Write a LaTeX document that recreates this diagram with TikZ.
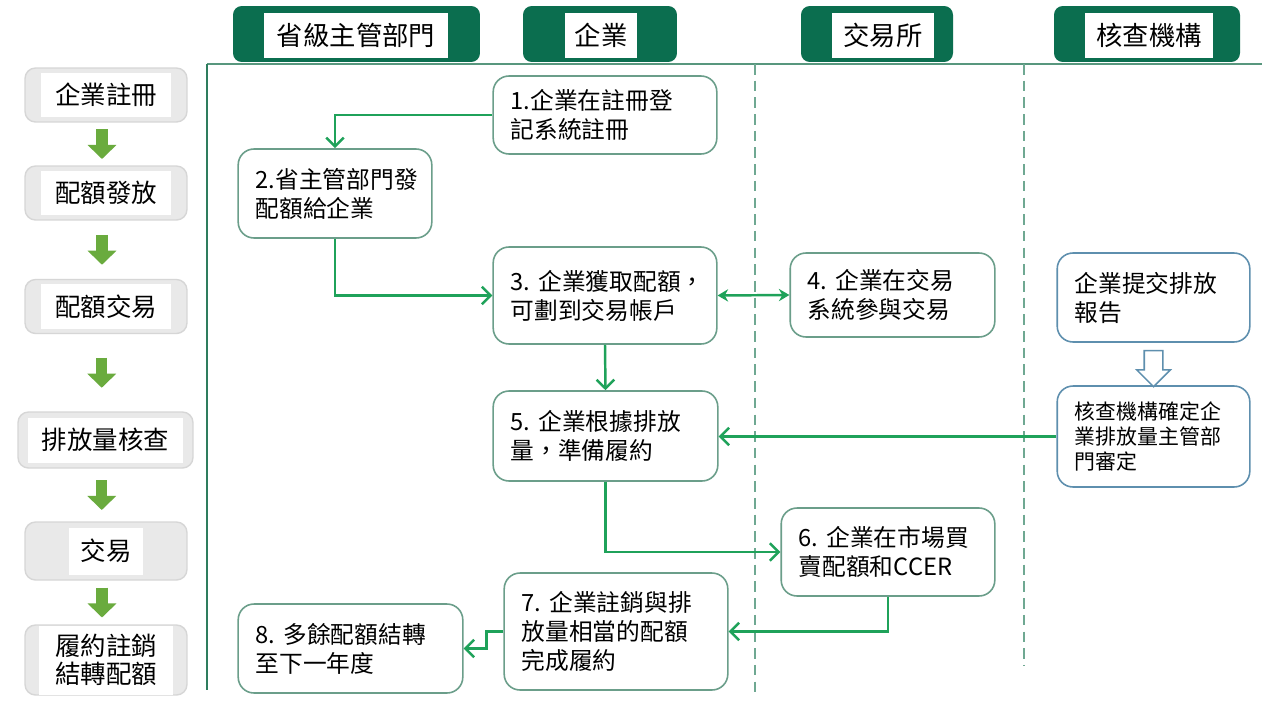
\documentclass[tikz,border=0pt]{standalone}
\usepackage{fontspec}
\setmainfont{Noto Sans CJK TC}
\usepackage{tikz}
\usetikzlibrary{arrows.meta,positioning,shapes.arrows,calc}
\usepackage{xcolor}
\definecolor{hdrgreen}{HTML}{0B6E4F}
\definecolor{flowgreen}{HTML}{1FA25A}
\definecolor{stepedge}{HTML}{6B9E8A}
\definecolor{checkedge}{HTML}{5E8FAE}
\definecolor{mainlane}{HTML}{2E7D5E}
\definecolor{dashlane}{HTML}{6FA892}
\definecolor{phasegreen}{HTML}{6AAB3E}
\definecolor{phasebg}{HTML}{E9E9E9}
\definecolor{phaseedge}{HTML}{D6D6D6}

\begin{document}
\begin{tikzpicture}[
  x=0.02cm, y=-0.02cm,
  >=Stealth,
  lanetab/.style={
    fill=hdrgreen,
    rounded corners=5pt,
    minimum height=1.12cm,
    inner sep=0pt
  },
  lanename/.style={
    fill=white,
    minimum height=0.9cm,
    inner sep=0pt,
    font=\fontsize{15}{18}\selectfont
  },
  phasebox/.style={
    fill=phasebg,
    draw=phaseedge,
    line width=0.8pt,
    rounded corners=6pt,
    minimum width=3.24cm,
    minimum height=1.08cm,
    inner sep=0pt
  },
  phasename/.style={
    fill=white,
    minimum width=2.6cm,
    minimum height=0.9cm,
    inner sep=0pt,
    align=center,
    font=\fontsize{14.5}{16}\selectfont
  },
  phasearrow/.style={
    -{Triangle[width=16pt,length=8pt]},
    line width=6.5pt,
    draw=phasegreen
  },
  stepbox/.style={
    draw=stepedge,
    fill=white,
    line width=0.9pt,
    rounded corners=9pt,
    align=left,
    inner xsep=10pt,
    inner ysep=0pt,
    font=\fontsize{13.5}{16.5}\selectfont
  },
  checkbox/.style={
    stepbox,
    draw=checkedge
  },
  flow/.style={
    -{Straight Barb[length=5pt,width=10pt]},
    line width=1.4pt,
    draw=flowgreen
  },
  tradeflow/.style={
    {Stealth[length=6pt,width=7pt]}-{Stealth[length=6pt,width=7pt]},
    line width=1.4pt,
    draw=flowgreen
  },
  hollowarrow/.style={
    single arrow,
    draw=checkedge,
    fill=white,
    line width=0.9pt,
    inner sep=0.17cm,
    single arrow head extend=0.15cm,
    minimum height=0.72cm
  },
  dashrule/.style={
    draw=dashlane,
    line width=0.9pt,
    dash pattern=on 6pt off 3.5pt
  }
]

  \fill[white] (0,0) rectangle (1280,720);
  \useasboundingbox (0,0) rectangle (1280,720);

  % --- Swimlane rules ---
  \draw[mainlane!80, line width=0.8pt] (207,64) -- (1262,64);
  \draw[mainlane, line width=1.4pt] (207,64) -- (207,690);
  \draw[dashrule] (755,64) -- (755,692);
  \draw[dashrule] (1024,64) -- (1024,666);

  % --- Lane headers ---
  \node[lanetab, minimum width=4.94cm] (tab1) at (356.5,34) {};
  \node[lanename, minimum width=3.68cm] (lane1) at (356,35.5) {省級主管部門};
  \node[lanetab, minimum width=3.08cm] (tab2) at (600,34) {};
  \node[lanename, minimum width=1.44cm] (lane2) at (601,35.5) {企業};
  \node[lanetab, minimum width=3.04cm] (tab3) at (877,34) {};
  \node[lanename, minimum width=2.04cm] (lane3) at (883,35.5) {交易所};
  \node[lanetab, minimum width=3.72cm] (tab4) at (1147,34) {};
  \node[lanename, minimum width=2.56cm] (lane4) at (1149,35.5) {核查機構};

  % --- Left column: phases ---
  \node[phasebox] (p1) at (106,95) {};
  \node[phasename] (p1t) at (p1) {企業註冊};
  \node[phasebox] (p2) at (106,193) {};
  \node[phasename] (p2t) at (p2) {配額發放};
  \node[phasebox] (p3) at (106,306.5) {};
  \node[phasename] (p3t) at (p3) {配額交易};
  \node[phasebox, minimum width=3.5cm, minimum height=1.12cm] (p4) at (105.5,440) {};
  \node[phasename, minimum width=3.1cm] (p4t) at (p4) {排放量核查};
  \node[phasebox, minimum height=1.16cm] (p5) at (106,551) {};
  \node[phasename, minimum width=1.5cm, minimum height=0.94cm] (p5t) at (p5) {交易};
  \node[phasebox, minimum height=1.4cm] (p6) at (106,660) {};
  \node[phasename, minimum width=2.7cm, minimum height=1.38cm] (p6t) at (p6) {履約註銷\\結轉配額};

  \draw[phasearrow] ($(p1.south)!0.5!(p2.north)+(-4,-15)$) -- ++(0,30);
  \draw[phasearrow] ($(p2.south)!0.5!(p3.north)+(-4,-15)$) -- ++(0,30);
  \draw[phasearrow] ($(p3.south)!0.5!(p4.north)+(-4,-15)$) -- ++(0,30);
  \draw[phasearrow] ($(p4.south)!0.5!(p5.north)+(-4,-15)$) -- ++(0,30);
  \draw[phasearrow] ($(p5.south)!0.5!(p6.north)+(-4,-15)$) -- ++(0,30);

  % --- Process steps ---
  \node[stepbox, text width=3.77cm, minimum height=1.56cm] (s1) at (605,115) {1.企業在註冊登\\記系統註冊};
  \node[stepbox, text width=3.17cm, minimum height=1.78cm] (s2) at (335,193.5) {2.省主管部門發\\配額給企業};
  \node[stepbox, text width=3.77cm, minimum height=1.94cm] (s3) at (605,295.5) {3.~企業獲取配額，\\可劃到交易帳戶};
  \node[stepbox, text width=3.39cm, minimum height=1.68cm] (s4) at (892.5,295) {4.~企業在交易\\系統參與交易};
  \node[stepbox, text width=3.79cm, minimum height=1.8cm] (s5) at (605.5,436) {5.~企業根據排放\\量，準備履約};
  \node[stepbox, text width=3.57cm, minimum height=1.76cm] (s6) at (888,552) {6.~企業在市場買\\賣配額和CCER};
  \node[stepbox, text width=3.77cm, minimum height=2.34cm] (s7) at (616,631.5) {7.~企業註銷與排\\放量相當的配額\\完成履約};
  \node[stepbox, text width=3.79cm, minimum height=1.78cm] (s8) at (350.5,648.5) {8.~多餘配額結轉\\至下一年度};

  % verification lane
  \node[checkbox, text width=3.15cm, minimum height=1.78cm] (k1) at (1153.5,297.5) {企業提交排放\\報告};
  \node[checkbox, text width=3.15cm, minimum height=2.02cm, font=\fontsize{11.9}{14.5}\selectfont] (k2) at (1153.5,436.5) {核查機構確定企\\業排放量主管部\\門審定};
  \node[hollowarrow, rotate=-90] (k12) at ($(k1.south)!0.5!(k2.north)$) {};

  % --- Connectors ---
  \draw[flow] (s1.west) -| (s2.north);
  \draw[flow] (s2.south) |- (s3.west);
  \draw[tradeflow] (s3.east) -- (s4.west);
  \draw[flow] (s3.south) -- (s5.north);
  \draw[flow] (k2.west) -- (s5.east |- k2.west);
  \draw[flow] (s5.south) |- (s6.west);
  \draw[flow] (s6.south) |- (s7.east);
  \draw[flow] (s7.west) -- ++(-17,0) |- (s8.east);

\end{tikzpicture}
\end{document}
